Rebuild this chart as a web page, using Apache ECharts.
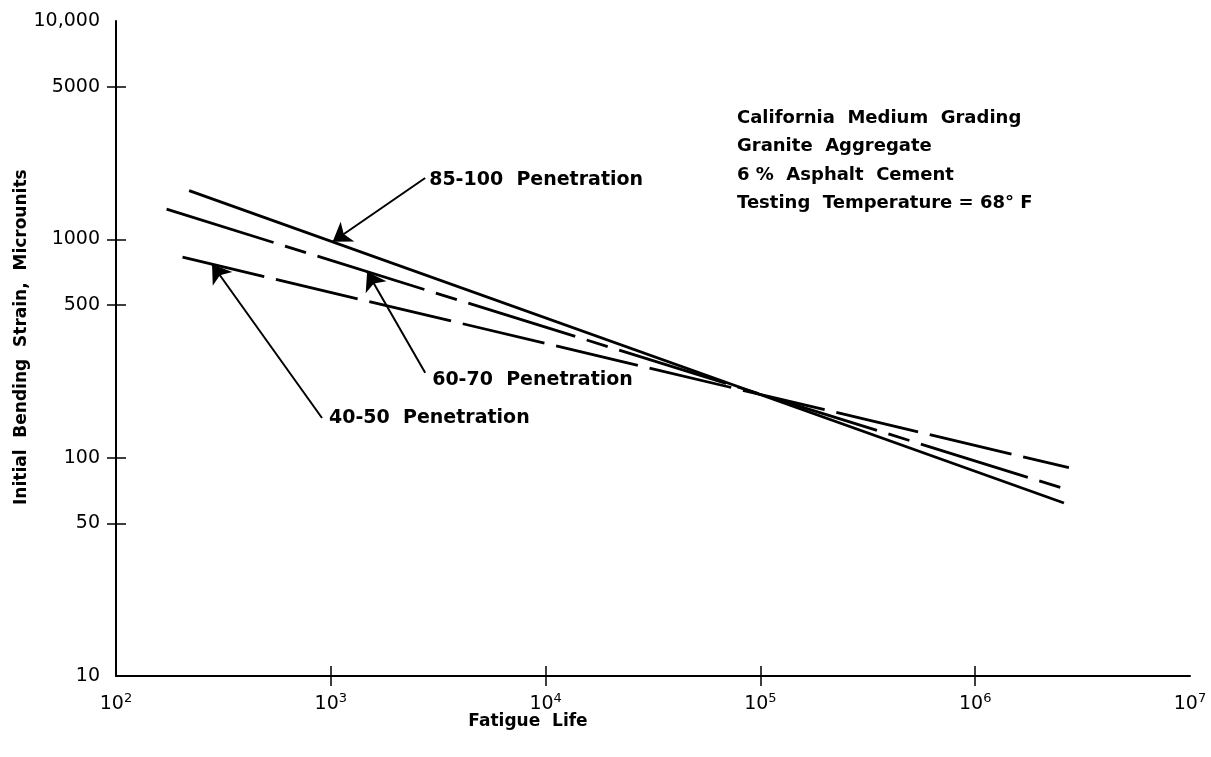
<!DOCTYPE html>
<html>
<head>
<meta charset="utf-8">
<script src="https://cdn.jsdelivr.net/npm/echarts@6/dist/echarts.min.js"></script>
<style>
html,body{margin:0;padding:0;background:#fff;}
#chart{width:1211px;height:757px;}
</style>
</head>
<body>
<div id="chart"></div>
<script>
// ---- data ----
const xLabelValues = [1e2, 1e3, 1e4, 1e5, 1e6, 1e7];
const xTickValues = [1e3, 1e4, 1e5, 1e6];
const yLabelValues = [10, 50, 100, 500, 1000, 5000, 10000];
const yTickValues = [50, 100, 500, 1000, 5000];

const seriesNames = ['85-100 Penetration', '60-70 Penetration', '40-50 Penetration'];
const pen85_100 = [[219, 1671], [2.59e6, 62]];
const pen60_70 = [[172, 1374], [2.73e6, 71]];
const pen40_50 = [[204, 828], [2.73e6, 90]];

// arrow annotations: [tail, tip]
const arrow85_100 = [[2750, 1910], [1020, 975]];
const arrow60_70 = [[2750, 245], [1476, 711]];
const arrow40_50 = [[910, 152], [280, 769]];
const arrowLabels = ['85-100  Penetration', '60-70  Penetration', '40-50  Penetration'];

const noteLines = [
  'California  Medium  Grading',
  'Granite  Aggregate',
  '6 %  Asphalt  Cement',
  'Testing  Temperature = 68° F'
];
const xAxisTitle = 'Fatigue  Life';
const yAxisTitle = 'Initial  Bending  Strain,  Microunits';

// ---- chart ----
const FONT = 'DejaVu Sans';
const chart = echarts.init(document.getElementById('chart'), null, {renderer: 'canvas'});

function expLabel(v) {
  const e = Math.round(Math.log10(v));
  return '{b|10}{s|' + e + '}';
}

const axisBase = {
  type: 'log', logBase: 10, splitLine: {show: false}, minorTick: {show: false}
};

const option = {
  backgroundColor: '#fff',
  animation: false,
  grid: {left: 116, right: 21, top: 21, bottom: 81, containLabel: false},
  xAxis: [
    Object.assign({}, axisBase, {
      min: 100, max: 1e7, position: 'bottom',
      axisLine: {show: true, lineStyle: {color: '#000', width: 2}},
      axisTick: {show: true, inside: false, length: 10, customValues: xTickValues, lineStyle: {color: '#000', width: 1.5}},
      axisLabel: {
        show: true, customValues: xLabelValues, margin: 16,
        formatter: expLabel,
        rich: {
          b: {fontFamily: FONT, fontSize: 19, color: '#000', verticalAlign: 'bottom', lineHeight: 22},
          s: {fontFamily: FONT, fontSize: 13, color: '#000', verticalAlign: 'top', padding: [0, 0, 10, 0], lineHeight: 12}
        }
      }
    }),
    Object.assign({}, axisBase, {
      min: 100, max: 1e7, position: 'bottom',
      axisLine: {show: false},
      axisTick: {show: true, inside: true, length: 10, customValues: xTickValues, lineStyle: {color: '#000', width: 1.5}},
      axisLabel: {show: false}
    })
  ],
  yAxis: [
    Object.assign({}, axisBase, {
      min: 10, max: 10000, position: 'left',
      axisLine: {show: true, lineStyle: {color: '#000', width: 2}},
      axisTick: {show: true, inside: false, length: 9, customValues: yTickValues, lineStyle: {color: '#000', width: 1.5}},
      axisLabel: {
        show: true, customValues: yLabelValues, margin: 16,
        fontFamily: FONT, fontSize: 19, color: '#000',
        formatter: function (v) { return v >= 10000 ? '10,000' : String(Math.round(v)); }
      }
    }),
    Object.assign({}, axisBase, {
      min: 10, max: 10000, position: 'left',
      axisLine: {show: false},
      axisTick: {show: true, inside: true, length: 10, customValues: yTickValues, lineStyle: {color: '#000', width: 1.5}},
      axisLabel: {show: false}
    })
  ],
  series: [
    {
      name: seriesNames[0], type: 'line', data: pen85_100, showSymbol: false, symbol: 'none',
      lineStyle: {color: '#000', width: 2.8, type: 'solid'}, z: 3
    },
    {
      name: seriesNames[1], type: 'line', data: pen60_70, showSymbol: false, symbol: 'none',
      lineStyle: {color: '#000', width: 2.8, type: [112, 12, 22, 12]}, z: 3
    },
    {
      name: seriesNames[2], type: 'line', data: pen40_50, showSymbol: false, symbol: 'none',
      lineStyle: {color: '#000', width: 2.8, type: [84, 12]}, z: 3
    },
    {
      type: 'lines', coordinateSystem: 'cartesian2d', silent: true,
      symbol: ['none', 'arrow'], symbolSize: [9, 18],
      lineStyle: {color: '#000', width: 2, opacity: 1, curveness: 0},
      data: [
        {coords: arrow85_100},
        {coords: arrow60_70},
        {coords: arrow40_50}
      ], z: 4
    }
  ],
  graphic: [
    {
      type: 'text', left: 737, top: 104,
      style: {text: noteLines.join('\n'), font: 'bold 18px "DejaVu Sans"', fill: '#000', lineHeight: 28.5}
    },
    {
      type: 'text', x: 528, y: 713,
      style: {text: xAxisTitle, font: 'bold 17px "DejaVu Sans"', fill: '#000', align: 'center'}
    },
    {
      type: 'text', x: 13, y: 505, rotation: Math.PI / 2,
      style: {text: yAxisTitle, font: 'bold 17px "DejaVu Sans"', fill: '#000'}
    }
  ]
};
chart.setOption(option);

// labels at the arrow tails, positioned through the chart's own scales
const tails = [arrow85_100[0], arrow60_70[0], arrow40_50[0]];
const labelOffsets = [[4, 2], [7, 7], [7, 0]];
const labelGraphics = tails.map(function (pt, i) {
  const px = chart.convertToPixel({xAxisIndex: 0, yAxisIndex: 0}, pt);
  return {
    type: 'text', x: px[0] + labelOffsets[i][0], y: px[1] + labelOffsets[i][1],
    style: {text: arrowLabels[i], font: 'bold 19px "DejaVu Sans"', fill: '#000', verticalAlign: 'middle'}
  };
});
chart.setOption({graphic: option.graphic.concat(labelGraphics)});
</script>
</body>
</html>
